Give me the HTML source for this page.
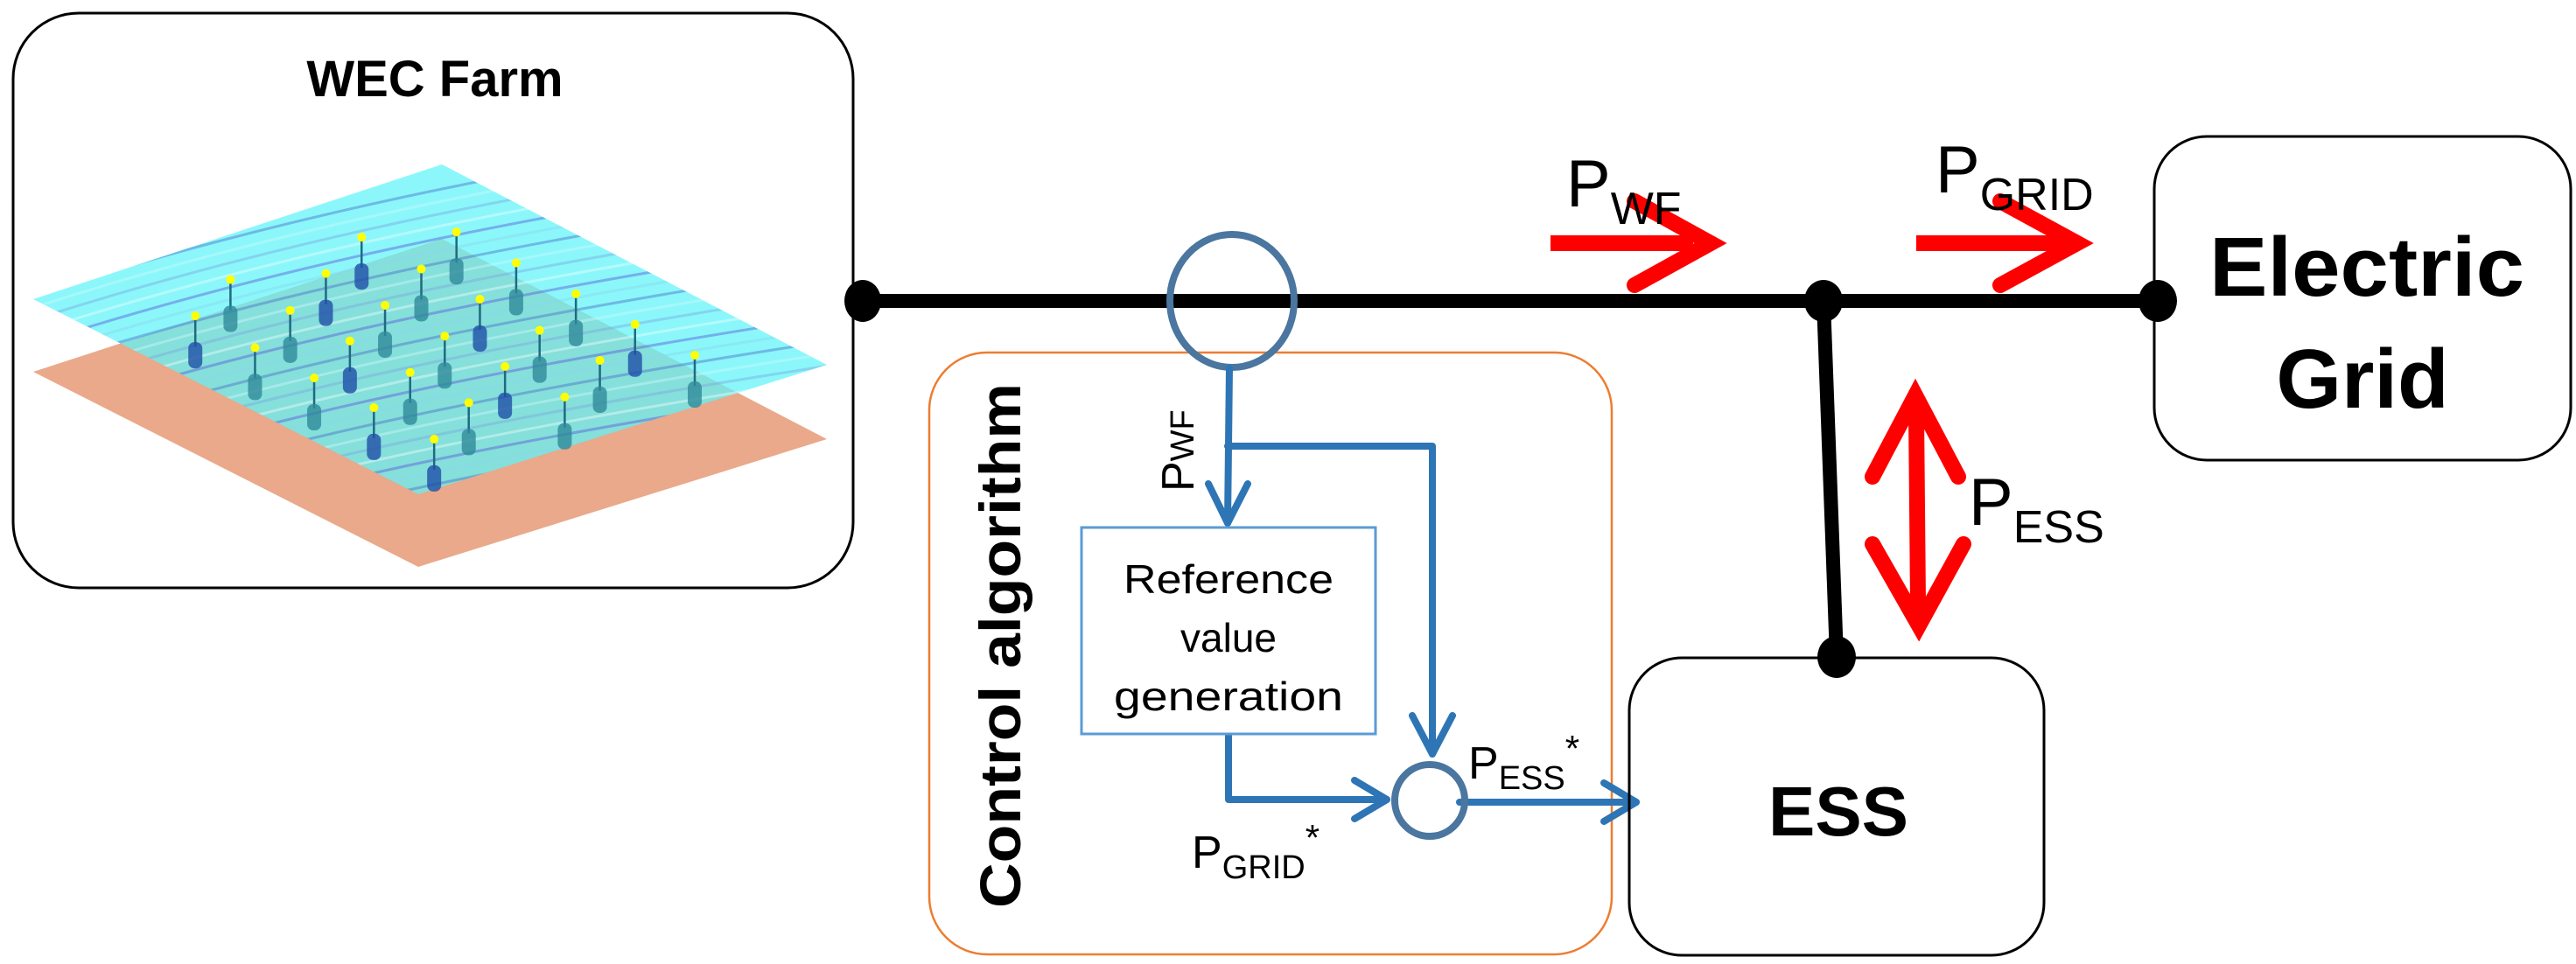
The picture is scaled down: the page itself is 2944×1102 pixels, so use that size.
<!DOCTYPE html>
<html><head><meta charset="utf-8"><style>
html,body{margin:0;padding:0;background:#fff}
svg{display:block}
text{font-family:"Liberation Sans",sans-serif}
</style></head><body>
<svg id="s" width="2944" height="1102" viewBox="0 0 2944 1102" xmlns="http://www.w3.org/2000/svg">
<defs>
<clipPath id="cp"><polygon points="38,342 505,188 945,417 478,565"/></clipPath>
</defs>
<rect x="15" y="15" width="960" height="657" rx="75" fill="#fff" stroke="#000" stroke-width="3"/>
<text x="497" y="110" font-size="58" font-weight="bold" text-anchor="middle">WEC Farm</text>
<polygon points="38,425 505,273 945,502 478,648" fill="#e9a98a"/>
<polygon points="38,342 505,188 945,417 478,565" fill="#5ef4fa" opacity="0.72"/>
<g id="stripes" clip-path="url(#cp)" opacity="0.45"></g>
<g id="buoys"></g>
<line x1="986" y1="344" x2="2450" y2="344" stroke="#000" stroke-width="16"/>
<line x1="2084" y1="344" x2="2099" y2="751" stroke="#000" stroke-width="16"/>
<ellipse cx="986" cy="344" rx="21" ry="24"/>
<ellipse cx="2084" cy="344" rx="22" ry="24"/>
<rect x="1062" y="403" width="780" height="688" rx="66" fill="none" stroke="#ed7d31" stroke-width="2.5"/>
<text transform="translate(1166,738) rotate(-90)" font-size="66" font-weight="bold" text-anchor="middle" textLength="600" lengthAdjust="spacingAndGlyphs">Control algorithm</text>
<ellipse cx="1408" cy="344" rx="71" ry="76" fill="none" stroke="#4a76a0" stroke-width="8"/>
<g stroke="#2e75b6" stroke-width="8" fill="none" stroke-linecap="round" stroke-linejoin="round">
<polyline points="1405,421 1403,598"/>
<polyline points="1381,553 1403,598 1426,553"/>
<polyline points="1403,510 1637,510 1637,862"/>
<polyline points="1614,818 1637,862 1660,818"/>
<polyline points="1404,839 1404,914 1585,914"/>
<polyline points="1548,892 1585,914 1548,936"/>
<polyline points="1668,917 1870,917"/>
<polyline points="1833,895 1870,917 1833,939"/>
</g>
<ellipse cx="1634" cy="915" rx="40" ry="41" fill="none" stroke="#4a76a0" stroke-width="8"/>
<rect x="1236" y="603" width="336" height="236" fill="#fff" stroke="#5b9bd5" stroke-width="3"/>
<g font-size="46" text-anchor="middle"><text x="1404" y="678" textLength="240" lengthAdjust="spacingAndGlyphs">Reference</text><text x="1404" y="745">value</text><text x="1404" y="812" textLength="262" lengthAdjust="spacingAndGlyphs">generation</text></g>
<text transform="translate(1364,562) rotate(-90)" font-size="52">P<tspan font-size="38" dy="0">WF</tspan></text>
<text x="1362" y="992" font-size="52">P<tspan font-size="38" dy="12">GRID</tspan><tspan font-size="42" dy="-32">*</tspan></text>
<text x="1678" y="890" font-size="52">P<tspan font-size="38" dy="12">ESS</tspan><tspan font-size="42" dy="-32">*</tspan></text>
<rect x="1862" y="752" width="474" height="340" rx="60" fill="none" stroke="#000" stroke-width="3"/>
<ellipse cx="2099" cy="751" rx="22" ry="24"/>
<text x="2101" y="955" font-size="80" font-weight="bold" text-anchor="middle">ESS</text>
<rect x="2462" y="156" width="476" height="370" rx="60" fill="#fff" stroke="#000" stroke-width="3"/>
<ellipse cx="2466" cy="344" rx="22" ry="24"/>
<text x="2705" y="338" font-size="96" font-weight="bold" text-anchor="middle" textLength="360" lengthAdjust="spacingAndGlyphs">Electric</text>
<text x="2700" y="466" font-size="96" font-weight="bold" text-anchor="middle">Grid</text>
<g stroke="#ff0000" stroke-width="18" fill="none" stroke-linecap="round" stroke-linejoin="miter">
<line x1="1772" y1="278" x2="1935" y2="278" stroke-linecap="butt"/>
<polyline points="1868,230 1955,278 1868,326"/>
<line x1="2190" y1="278" x2="2355" y2="278" stroke-linecap="butt"/>
<polyline points="2286,230 2374,278 2286,326"/>
<line x1="2190" y1="470" x2="2192" y2="690"/>
<polyline points="2140,545 2189,452 2238,545"/>
<polyline points="2140,622 2193,715 2244,622"/>
</g>
<text x="1790" y="236" font-size="76">P<tspan font-size="52" dy="20">WF</tspan></text>
<text x="2212" y="220" font-size="76">P<tspan font-size="52" dy="20">GRID</tspan></text>
<text x="2250" y="600" font-size="76">P<tspan font-size="52" dy="20">ESS</tspan></text>
</svg>
<script>
var ns="http://www.w3.org/2000/svg",st=document.getElementById("stripes"),bu=document.getElementById("buoys");
var cols=["#4a70c8","#c8f8fa","#7aa8e0","#e8fcfc","#5a5ad8","#8ad8ec"];
for(var i=0;i<34;i++){var y=180+i*14;var p=document.createElementNS(ns,"path");
p.setAttribute("d","M0,"+(y+170)+" C300,"+(y+70)+" 600,"+(y+10)+" 1000,"+(y-50));
p.setAttribute("stroke",cols[i%6]);p.setAttribute("stroke-width",(3+(i*7)%7));p.setAttribute("fill","none");st.appendChild(p);}
var pts=[[648,350],[818,333],[413,490],[584,470],[755,455],[925,435],[350,610],[520,592],[690,575],[860,555],[1032,537],[457,715],[627,693],[797,677],[967,658],[1138,638],[563,815],[735,797],[905,777],[1075,757],[1245,740],[670,913],[840,897],[1012,878],[778,1017]];
pts.forEach(function(q,k){var x=q[0]/1.568,y=150+q[1]/2.89;
var l=document.createElementNS(ns,"line");l.setAttribute("x1",x);l.setAttribute("y1",y);l.setAttribute("x2",x);l.setAttribute("y2",y+35);l.setAttribute("stroke","#206a80");l.setAttribute("stroke-width","2.5");bu.appendChild(l);
var r=document.createElementNS(ns,"rect");r.setAttribute("x",x-8);r.setAttribute("y",y+30);r.setAttribute("width",16);r.setAttribute("height",30);r.setAttribute("rx",7);r.setAttribute("fill",k%3==0?"#1f4fa8":"#2f8a9a");r.setAttribute("opacity","0.8");bu.appendChild(r);
var c=document.createElementNS(ns,"circle");c.setAttribute("cx",x);c.setAttribute("cy",y);c.setAttribute("r",5);c.setAttribute("fill","#ffff00");bu.appendChild(c);});
</script>
</body></html>
